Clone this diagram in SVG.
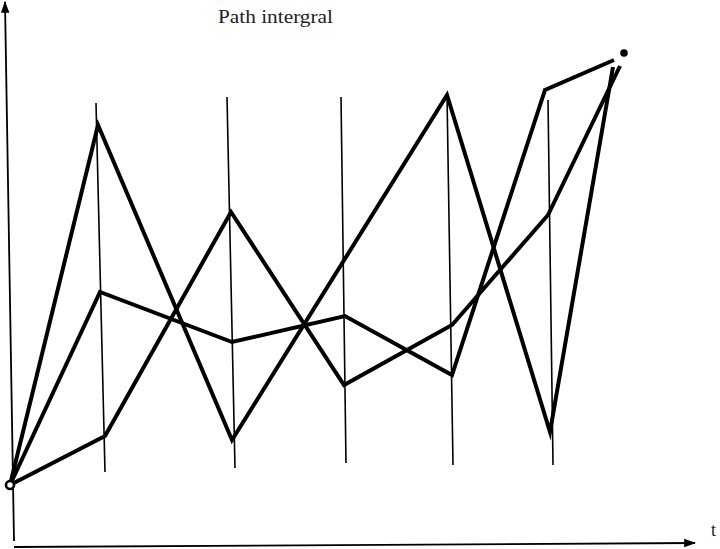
<svg xmlns="http://www.w3.org/2000/svg" width="720" height="549" viewBox="0 0 720 549">
<style>
.grid{stroke:#000;stroke-width:1.6;fill:none}
.path{stroke:#000;stroke-width:4;fill:none;stroke-linejoin:miter;stroke-miterlimit:10}
.axis{stroke:#000;stroke-width:1.8;fill:none}
.lbl{font-family:"Liberation Serif","DejaVu Serif",serif;fill:#222}
</style>
<defs>
<marker id="arrh" viewBox="0 0 10 10" refX="9" refY="5" markerWidth="12" markerHeight="12" markerUnits="userSpaceOnUse" orient="auto">
<path d="M0,1.5 L10,5 L0,8.5 z" fill="#000"/>
</marker>
</defs>
<rect width="720" height="549" fill="#fff"/>
<g id="axes">
<line class="axis" x1="14" y1="541" x2="5" y2="2" marker-end="url(#arrh)"/>
<line class="axis" x1="14" y1="547" x2="695" y2="543" marker-end="url(#arrh)"/>
</g>
<g id="grid">
<line class="grid" x1="96" y1="103" x2="105" y2="472"/>
<line class="grid" x1="227" y1="97" x2="235" y2="468"/>
<line class="grid" x1="341" y1="97" x2="346" y2="463"/>
<line class="grid" x1="447" y1="95" x2="453" y2="465"/>
<line class="grid" x1="548" y1="100" x2="553" y2="465"/>
</g>
<g id="connectors">
<polyline class="path" points="10,485 98,125 232,440 447,95 550,432 613,67"/>
<polyline class="path" points="10,485 100,292 232,342 345,316 452,375 545,90 614,60"/>
<polyline class="path" points="10,485 105,436 231,212 344,385 452,325 548,215 620,66"/>
</g>
<g id="start"><circle cx="10" cy="485" r="4" fill="#fff" stroke="#000" stroke-width="2.6"/></g>
<g id="end"><circle cx="624" cy="53" r="3.8" fill="#000"/></g>
<text class="lbl" x="218" y="23" font-size="18" textLength="115" lengthAdjust="spacingAndGlyphs">Path intergral</text>
<text class="lbl" x="711" y="536" font-size="18">t</text>
</svg>
